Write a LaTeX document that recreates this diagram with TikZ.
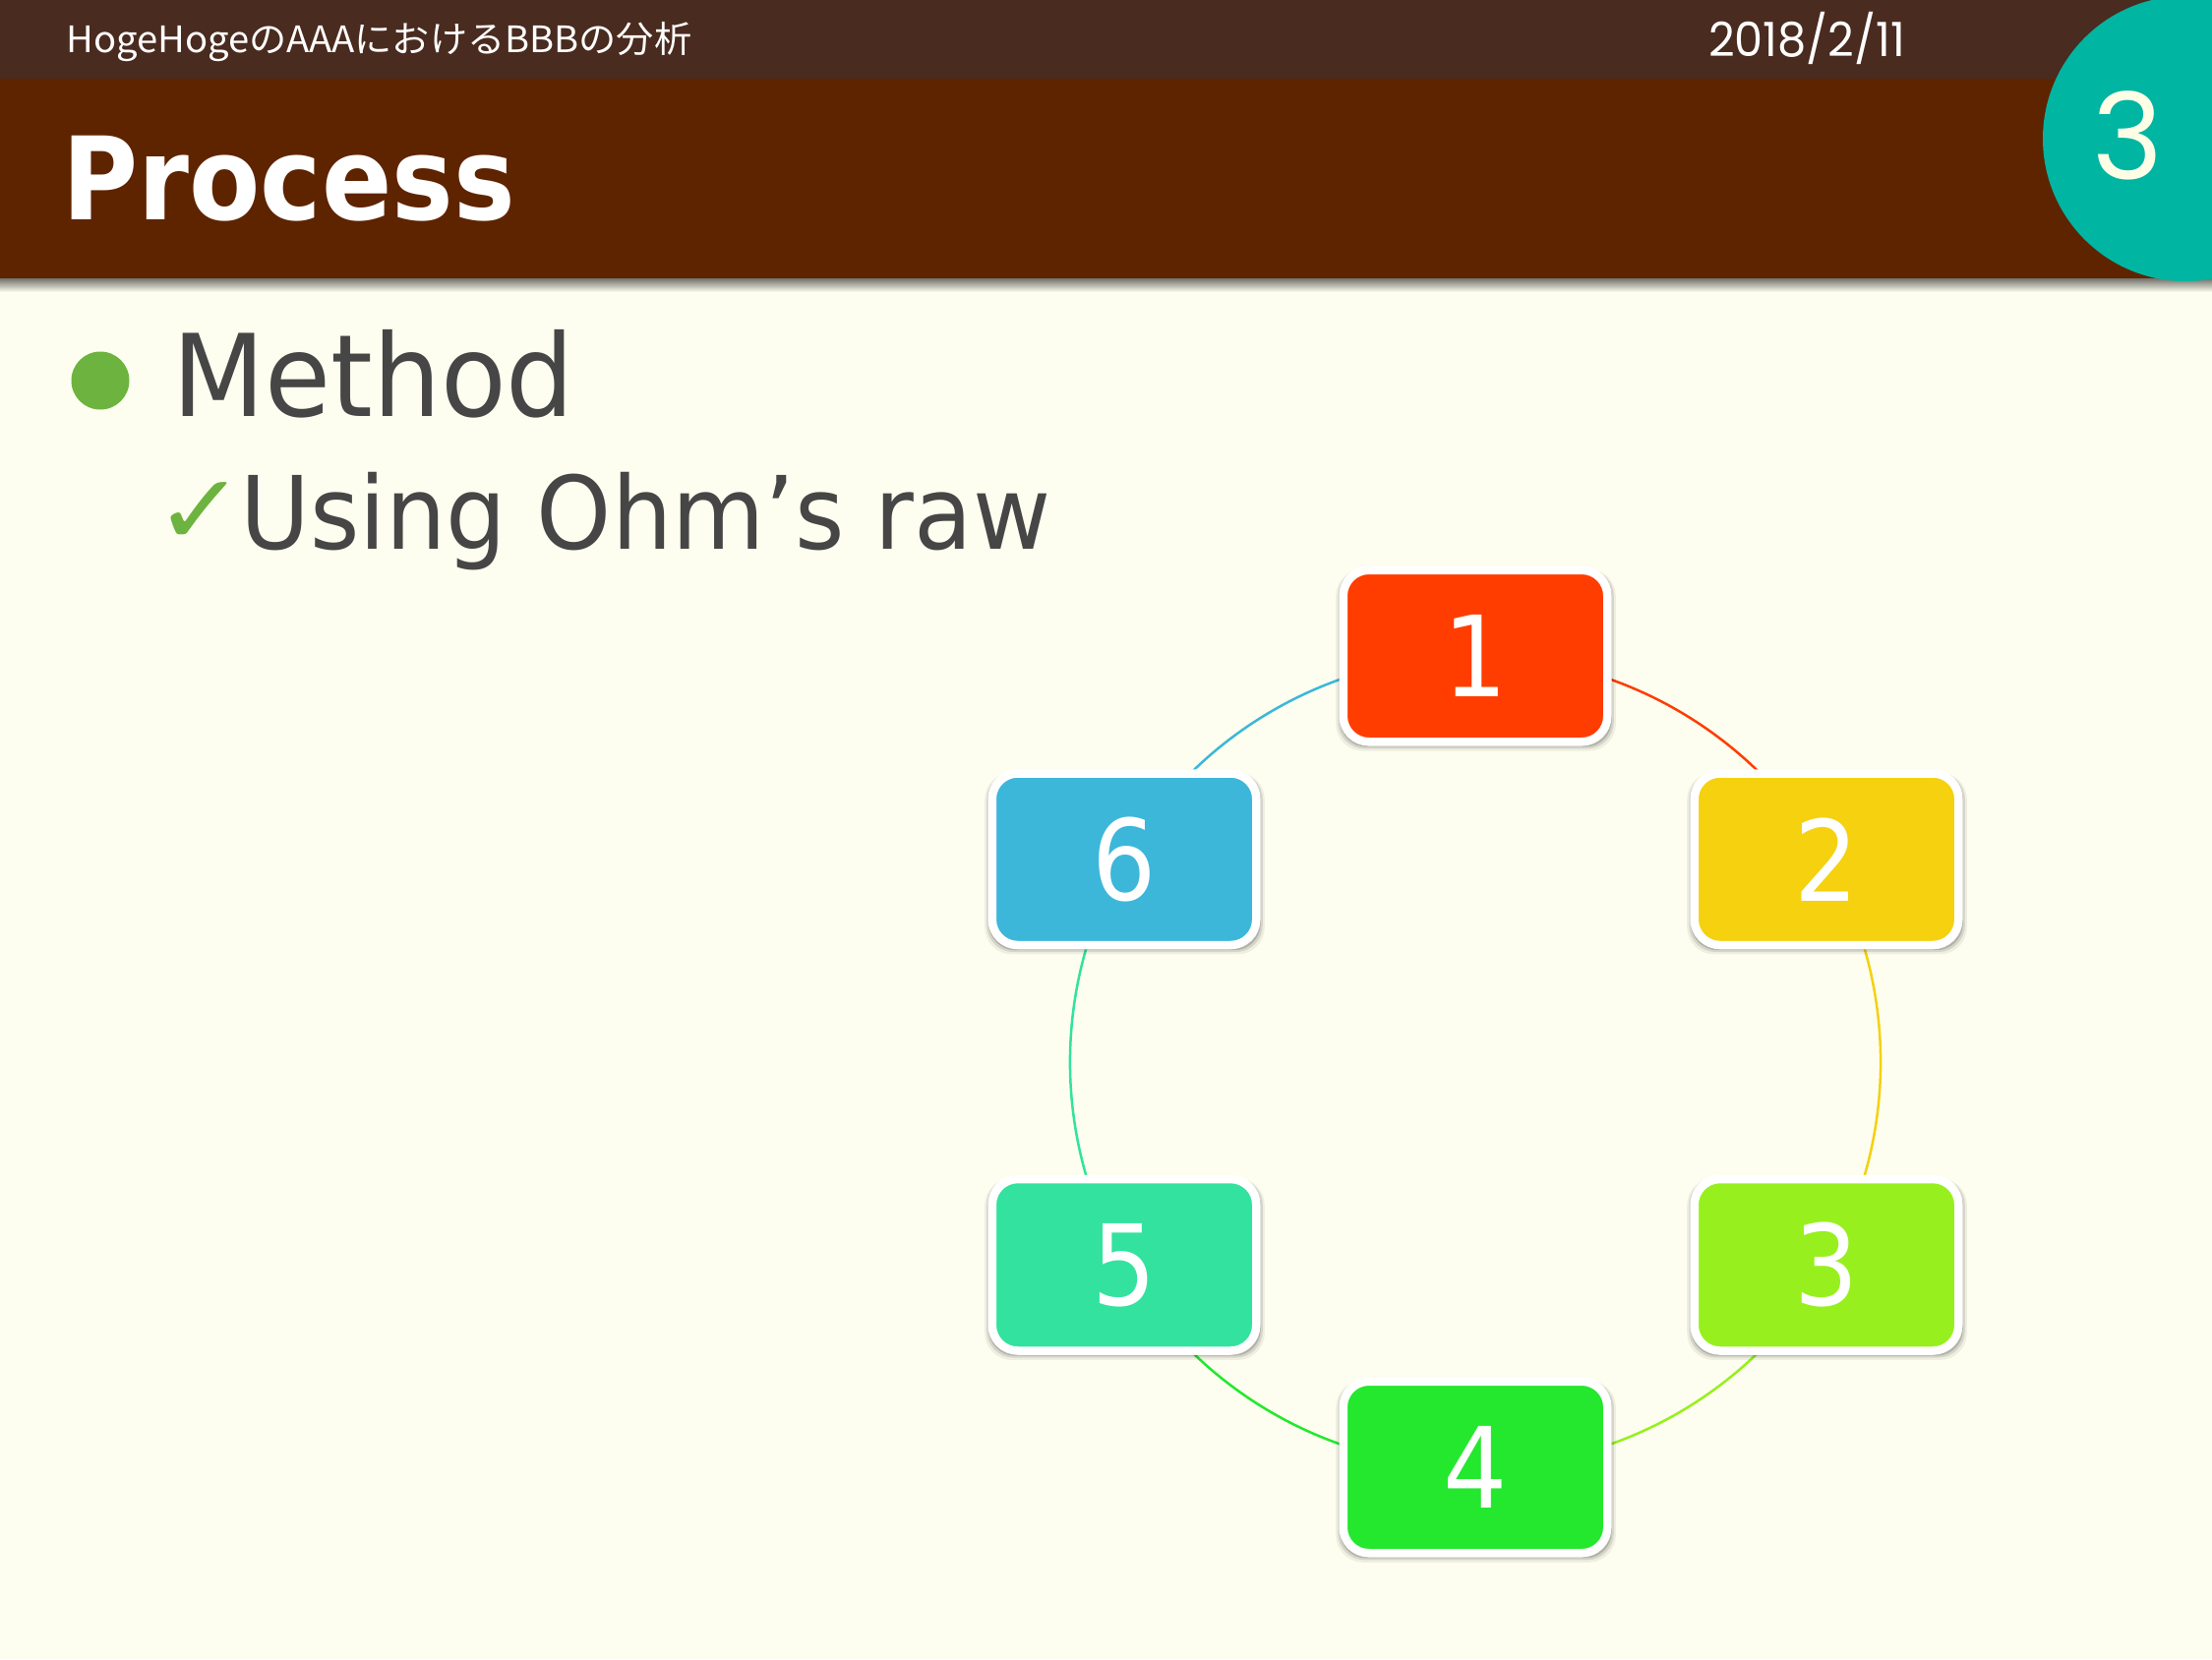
\documentclass[tikz,border=0pt]{standalone}
\usepackage{fontspec}
\usepackage{graphicx}
\usetikzlibrary{shadows}

\newfontfamily\uifont[FakeStretch=0.9]{DejaVu Sans}
\newfontfamily\bodyfont[FakeStretch=0.94]{DejaVu Sans}
\newfontfamily\jpfont{Noto Sans CJK JP}
\newfontfamily\geofont{Poppins}
\newfontfamily\symfont{DejaVu Sans}

\definecolor{ivory}{HTML}{FDFEEF}
\definecolor{headbar}{HTML}{4A2B1F}
\definecolor{titlebar}{HTML}{5E2400}
\definecolor{badge}{HTML}{00B5A1}
\definecolor{badgetext}{HTML}{FEFEE6}
\definecolor{bodytext}{HTML}{464646}
\definecolor{leaf}{HTML}{6DB33F}
\definecolor{stepA}{HTML}{FF3D00}
\definecolor{stepB}{HTML}{F5D10F}
\definecolor{stepC}{HTML}{97F01E}
\definecolor{stepD}{HTML}{23E82E}
\definecolor{stepE}{HTML}{33E29F}
\definecolor{stepF}{HTML}{3CB7DA}

\pgfdeclarelayer{backdrop}
\pgfdeclarelayer{links}
\pgfsetlayers{backdrop,links,main}

\begin{document}
\begin{tikzpicture}[x=1pt,y=-1pt,
  stepbox/.style={draw=white, line width=8.5pt, rounded corners=26pt,
    minimum width=268.5pt, minimum height=174.5pt, inner sep=0pt,
    text=white, font=\uifont\fontsize{114}{114}\selectfont, fill=#1,
    drop shadow={shadow xshift=0.5pt, shadow yshift=-4pt, shadow scale=1.06, opacity=0.06, fill=black},
    drop shadow={shadow xshift=0.5pt, shadow yshift=-3pt, shadow scale=1.045, opacity=0.10, fill=black},
    drop shadow={shadow xshift=0.5pt, shadow yshift=-2.5pt, shadow scale=1.03, opacity=0.16, fill=black}},
  link/.style={draw=#1, line width=2.5pt, bend left=30, looseness=0.913},
  plain/.style={inner sep=0pt, anchor=base west},
]
\useasboundingbox (0,0) rectangle (2249,1687);

% slide background
\begin{pgfonlayer}{backdrop}
  \fill[ivory] (0,0) rectangle (2249,1687);
\end{pgfonlayer}

% header bars
\fill[headbar] (0,0) rectangle (2249,80);
\fill[titlebar] (0,79.5) rectangle (2249,283);
\shade[top color=black!55!ivory, bottom color=ivory] (0,283) rectangle (2249,297);

% page badge
\begin{scope}
  \clip (0,0) rectangle (2249,1687);
  \fill[badge] (2222,141) circle[radius=145];
\end{scope}
\node[inner sep=0pt, anchor=base, text=badgetext, font=\geofont\fontsize{122}{122}\selectfont]
  (pageno) at (2163,182) {3};

% header texts
\node[plain, text=white, font=\jpfont\fontsize{37}{37}\selectfont] (hdr) at (67,53)
  {\resizebox{636pt}{\height}{HogeHogeのAAAにおけるBBBの分析}};
\node[plain, text=white, font=\geofont\fontsize{48}{48}\selectfont] (date) at (1737,57)
  {\resizebox{200pt}{\height}{2018/2/11}};
\node[plain, text=white, font=\uifont\bfseries\fontsize{117}{117}\selectfont] (title) at (63,223) {Process};

% bullet list
\node[circle, fill=leaf, minimum size=59pt, inner sep=0pt] (dot) at (102,387) {};
\node[plain, text=bodytext, font=\bodyfont\fontsize{116}{116}\selectfont] (method) at (175,423) {Method};
\node[plain, text=leaf, font=\symfont\fontsize{100}{100}\selectfont] (tick) at (157.5,553) {\scalebox{1.1}[1]{✓}};
\node[plain, text=bodytext, font=\bodyfont\fontsize{103}{103}\selectfont] (usage) at (244,558) {Using Ohm’s raw};

% process cycle
\node[stepbox=stepA] (n1) at (1500,667)    {1};
\node[stepbox=stepB] (n2) at (1857,873.75) {2};
\node[stepbox=stepC] (n3) at (1857,1286.25){3};
\node[stepbox=stepD] (n4) at (1500,1492)   {4};
\node[stepbox=stepE] (n5) at (1143,1286.25){5};
\node[stepbox=stepF] (n6) at (1143,873.75) {6};

\begin{pgfonlayer}{links}
  \draw[link=stepA] (n1.center) to (n2.center);
  \draw[link=stepB] (n2.center) to (n3.center);
  \draw[link=stepC] (n3.center) to (n4.center);
  \draw[link=stepD] (n4.center) to (n5.center);
  \draw[link=stepE] (n5.center) to (n6.center);
  \draw[link=stepF] (n6.center) to (n1.center);
\end{pgfonlayer}
\end{tikzpicture}
\end{document}
